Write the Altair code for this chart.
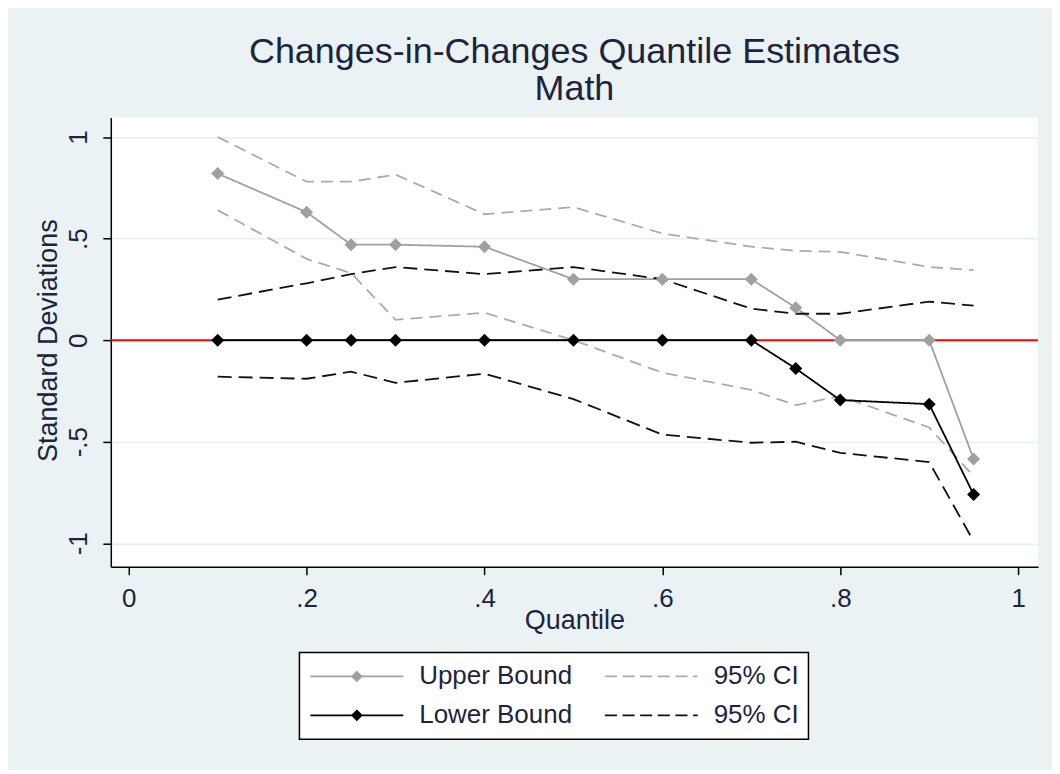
import altair as alt
import pandas as pd

# ---- data ----
quantiles = [0.1, 0.2, 0.25, 0.3, 0.4, 0.5, 0.6, 0.7, 0.75, 0.8, 0.9, 0.95]
upper_bound = [0.82, 0.63, 0.47, 0.47, 0.46, 0.30, 0.30, 0.30, 0.16, 0.0, 0.0, -0.585]
upper_ci_hi = [1.0, 0.78, 0.78, 0.815, 0.62, 0.655, 0.525, 0.46, 0.44, 0.435, 0.36, 0.345]
upper_ci_lo = [0.64, 0.40, 0.33, 0.10, 0.135, 0.0, -0.16, -0.245, -0.32, -0.275, -0.43, -0.67]
lower_bound = [0.0, 0.0, 0.0, 0.0, 0.0, 0.0, 0.0, 0.0, -0.14, -0.295, -0.315, -0.76]
lower_ci_hi = [0.20, 0.28, 0.325, 0.36, 0.325, 0.36, 0.30, 0.155, 0.13, 0.13, 0.19, 0.17]
lower_ci_lo = [-0.18, -0.19, -0.155, -0.21, -0.165, -0.29, -0.465, -0.505, -0.50, -0.555, -0.60, -0.99]

# legend order (entries fill column by column: left column = bounds, right = CIs)
series_names = ["Upper Bound", "Lower Bound", "Upper CI", "Lower CI"]
legend_labels = ["Upper Bound", "Lower Bound", "95% CI", "95% CI"]
x_ticks = [0, 0.2, 0.4, 0.6, 0.8, 1]
x_tick_labels = ["0", ".2", ".4", ".6", ".8", "1"]
y_ticks = [-1, -0.5, 0, 0.5, 1]
y_tick_labels = ["-1", "-.5", "0", ".5", "1"]
title_lines = ["Changes-in-Changes Quantile Estimates", "Math"]

rows = []
for name, series, vals in [
    ("ub", "Upper Bound", upper_bound),
    ("ub_hi", "Upper CI", upper_ci_hi),
    ("ub_lo", "Upper CI", upper_ci_lo),
    ("lb", "Lower Bound", lower_bound),
    ("lb_hi", "Lower CI", lower_ci_hi),
    ("lb_lo", "Lower CI", lower_ci_lo),
]:
    for q, v in zip(quantiles, vals):
        rows.append({"quantile": q, "value": v, "series": series, "line": name})
df = pd.DataFrame(rows)
zero_df = pd.DataFrame({"y": [0]})
# legend-only rows: no coordinates, so nothing is drawn, only the legend entries
legend_df = pd.DataFrame({"series": series_names, "quantile": [None] * 4, "value": [None] * 4})

# ---- styling ----
FONT = "Liberation Sans"
TEXT = "#1d2440"
style = {
    "Upper Bound": ("#a0a0a0", [1, 0]),
    "Upper CI": ("#ababab", [12, 7]),
    "Lower Bound": ("#000000", [1, 0]),
    "Lower CI": ("#111111", [14, 7]),
}
# plot scales use a different domain order than the legend scales so the
# (hidden) plot legends are not merged with the visible one
plot_order = ["Lower Bound", "Lower CI", "Upper Bound", "Upper CI"]

def expr_from(vals, labels):
    e = "''"
    for v, l in zip(vals, labels):
        e = f"abs(datum.value - ({v})) < 1e-6 ? '{l}' : ({e})"
    return e

def legend_label_expr():
    e = "datum.label"
    for s, l in zip(series_names, legend_labels):
        e = f"datum.label == '{s}' ? '{l}' : ({e})"
    return e

xscale = alt.Scale(domain=[-0.0202, 1.0224], nice=False, zero=False)
yscale = alt.Scale(domain=[-1.115, 1.096], nice=False, zero=False)
color_scale = alt.Scale(domain=plot_order, range=[style[s][0] for s in plot_order])
dash_scale = alt.Scale(domain=plot_order, range=[style[s][1] for s in plot_order])

x_enc = alt.X("quantile:Q", scale=xscale, axis=alt.Axis(
    values=x_ticks, labelExpr=expr_from(x_ticks, x_tick_labels), title="Quantile",
    grid=False, titleY=41, titleBaseline="top", labelPadding=11))
y_enc = alt.Y("value:Q", scale=yscale, axis=alt.Axis(
    values=y_ticks, labelExpr=expr_from(y_ticks, y_tick_labels), title="Standard Deviations",
    grid=True, labelAngle=270, labelAlign="center", labelBaseline="alphabetic", labelPadding=16,
    titleAngle=270, titleAlign="center", titleBaseline="middle", titleX=-62, titleY=223))

redline = alt.Chart(zero_df).mark_rule(color="#ff0000", strokeWidth=2).encode(
    y=alt.Y("y:Q", scale=yscale))

lines = alt.Chart(df).mark_line(strokeWidth=1.8).encode(
    x=x_enc, y=y_enc,
    color=alt.Color("series:N", scale=color_scale, legend=None),
    strokeDash=alt.StrokeDash("series:N", scale=dash_scale, legend=None),
    detail="line:N",
    order="quantile:Q",
)

points = alt.Chart(df).transform_filter(
    alt.FieldOneOfPredicate(field="series", oneOf=["Upper Bound", "Lower Bound"])
).mark_point(shape="diamond", filled=True, size=170, opacity=1).encode(
    x=alt.X("quantile:Q", scale=xscale),
    y=alt.Y("value:Q", scale=yscale),
    color=alt.Color("series:N", scale=color_scale, legend=None),
)

# legend symbols drawn as line+diamond / dashes
bound_path = "M-1,0L1,0M0,-0.1L0.1,0L0,0.1L-0.1,0Z"
dash_path = ("M-1,0L-0.74,0M-0.62,0L-0.36,0M-0.24,0L0.02,0M0.14,0L0.40,0"
             "M0.52,0L0.78,0M0.90,0L1,0")
shape_paths = [bound_path if "Bound" in s else dash_path for s in series_names]
legend_colors = [style[s][0] for s in series_names]
leg = alt.Legend(
    title=None, orient="none", legendX=189, legendY=536, columns=2,
    labelExpr=legend_label_expr(), symbolSize=8650, symbolStrokeWidth=1.8,
    labelFont=FONT, labelFontSize=26, labelColor=TEXT, labelOffset=15, labelLimit=400,
    columnPadding=30, rowPadding=9, padding=9, fillColor="#ffffff", strokeColor="#000000",
    symbolOffset=1, clipHeight=30, symbolOpacity=1,
)
legend_layer = alt.Chart(legend_df).mark_point(filled=True, size=8650, opacity=1).encode(
    x=alt.X("quantile:Q", scale=xscale),
    y=alt.Y("value:Q", scale=yscale),
    fill=alt.Fill("series:N", scale=alt.Scale(domain=series_names, range=legend_colors), legend=leg),
    stroke=alt.Stroke("series:N", scale=alt.Scale(domain=series_names, range=legend_colors), legend=leg),
    shape=alt.Shape("series:N", scale=alt.Scale(domain=series_names, range=shape_paths), legend=leg),
)

chart = alt.layer(redline, lines, points, legend_layer).properties(
    width=929, height=450,
    title=alt.TitleParams(title_lines, font=FONT, fontSize=36, fontWeight="normal", color=TEXT,
                          anchor="middle", lineHeight=37, offset=10),
    autosize=alt.AutoSizeParams(type="none"),
    padding={"left": 103, "top": 109, "right": 14, "bottom": 203},
).configure(background="#eaf2f3").configure_view(fill="#ffffff", stroke=None).configure_axis(
    labelFont=FONT, labelFontSize=26, labelColor=TEXT, titleFont=FONT, titleFontSize=27,
    titleColor=TEXT, titleFontWeight="normal", domainColor="#000000", domainWidth=1.5,
    tickColor="#000000", tickWidth=1.5, tickSize=8, gridColor="#e6eff1", gridWidth=1.5,
).configure_legend(strokeWidth=1.5)

chart.save("out.html", embed_options={"renderer": "svg", "actions": False})
